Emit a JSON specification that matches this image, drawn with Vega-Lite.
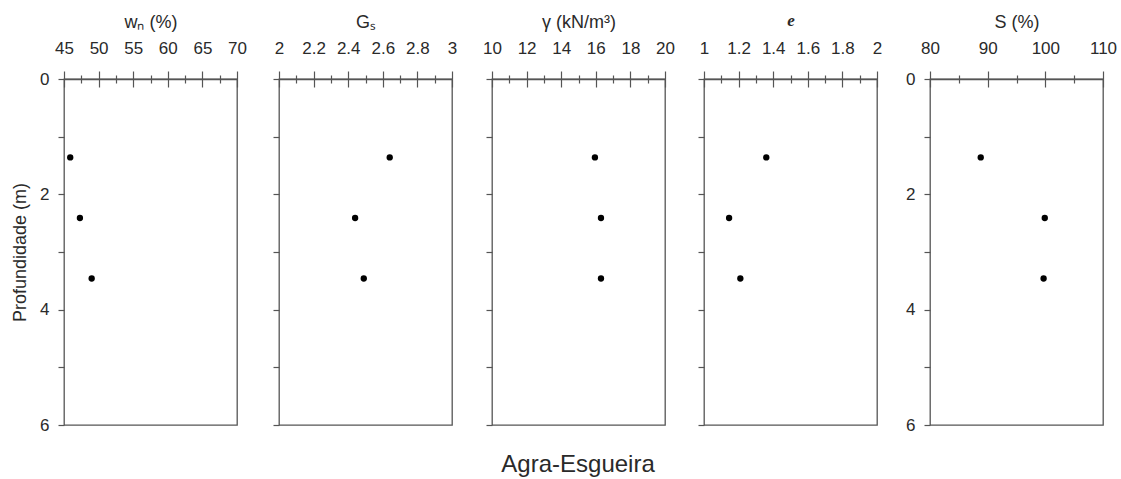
{
  "$schema": "https://vega.github.io/schema/vega-lite/v6.json",
  "background": "white",
  "padding": {"left": 10, "top": 10, "right": 5, "bottom": 5},
  "config": {
    "view": {"stroke": "#555", "strokeWidth": 1.3},
    "axis": {
      "labelFont": "Liberation Sans", "labelFontSize": 17, "labelColor": "#2a2a2a", "labelFlush": false,
      "titleFont": "Liberation Sans", "titleFontSize": 18, "titleFontWeight": "normal", "titleColor": "#2a2a2a",
      "tickColor": "#555", "domainColor": "#555", "tickWidth": 1.2, "domainWidth": 1.3, "grid": false, "labelOverlap": false
    },
    "title": {"font": "Liberation Sans", "fontSize": 24, "fontWeight": "normal", "color": "#2a2a2a"}
  },
  "data": {"values": [
    {"depth": 1.36, "wn": 45.9, "gs": 2.64, "gamma": 15.95, "e": 1.36, "s": 88.8},
    {"depth": 2.41, "wn": 47.3, "gs": 2.44, "gamma": 16.3, "e": 1.145, "s": 99.9},
    {"depth": 3.46, "wn": 49.0, "gs": 2.49, "gamma": 16.3, "e": 1.21, "s": 99.7}
  ]},
  "title": {"text": "Agra-Esgueira", "orient": "bottom", "anchor": "middle", "offset": 19, "dx": 14},
  "spacing": 20,
  "hconcat": [
    {
      "spacing": 23,
      "hconcat": [
        {
          "width": 173, "height": 346,
          "resolve": {"axis": {"x": "independent", "y": "independent"}},
          "layer": [
            {
              "mark": {"type": "point", "filled": true, "color": "black", "size": 40, "opacity": 1},
              "encoding": {
                "x": {"field": "wn", "type": "quantitative", "scale": {"domain": [45, 70], "nice": false, "zero": false},
                  "axis": {"orient": "top", "title": "wₙ (%)", "titlePadding": 8, "values": [45, 47.5, 50, 52.5, 55, 57.5, 60, 62.5, 65, 67.5, 70],
                    "format": "~g", "labelExpr": "datum.value % 5 === 0 ? datum.label : ''", "labelPadding": 14,
                    "tickSize": {"condition": {"test": "datum.value % 5 === 0", "value": 8}, "value": 4}}},
                "y": {"field": "depth", "type": "quantitative", "scale": {"domain": [0, 6], "reverse": true, "nice": false, "zero": false},
                  "axis": {"title": "Profundidade (m)", "values": [0, 1, 2, 3, 4, 5, 6], "labelExpr": "datum.value % 2 === 0 ? datum.label : ''", "tickSize": 6, "labelPadding": 9, "titlePadding": 10, "domain": false}}
              }
            },
            {
              "mark": {"type": "point", "opacity": 0},
              "encoding": {
                "x": {"field": "wn", "type": "quantitative",
                  "axis": {"orient": "top", "title": null, "labels": false, "domain": false, "values": [45, 47.5, 50, 52.5, 55, 57.5, 60, 62.5, 65, 67.5, 70],
                    "tickSize": {"condition": {"test": "datum.value % 5 === 0", "value": -8}, "value": -4}}},
                "y": {"field": "depth", "type": "quantitative", "axis": null}
              }
            }
          ]
        },
        {
          "width": 173, "height": 346,
          "resolve": {"axis": {"x": "independent", "y": "independent"}},
          "layer": [
            {
              "mark": {"type": "point", "filled": true, "color": "black", "size": 40, "opacity": 1},
              "encoding": {
                "x": {"field": "gs", "type": "quantitative", "scale": {"domain": [2, 3], "nice": false, "zero": false},
                  "axis": {"orient": "top", "title": "Gₛ", "titlePadding": 8, "values": [2, 2.1, 2.2, 2.3, 2.4, 2.5, 2.6, 2.7, 2.8, 2.9, 3],
                    "format": "~g", "labelExpr": "round(datum.value * 10) % 2 === 0 ? datum.label : ''", "labelPadding": 14,
                    "tickSize": {"condition": {"test": "round(datum.value * 10) % 2 === 0", "value": 8}, "value": 4}}},
                "y": {"field": "depth", "type": "quantitative", "scale": {"domain": [0, 6], "reverse": true, "nice": false, "zero": false},
                  "axis": {"title": null, "labels": false, "values": [0, 1, 2, 3, 4, 5, 6], "tickSize": 6, "domain": false}}
              }
            },
            {
              "mark": {"type": "point", "opacity": 0},
              "encoding": {
                "x": {"field": "gs", "type": "quantitative",
                  "axis": {"orient": "top", "title": null, "labels": false, "domain": false, "values": [2, 2.1, 2.2, 2.3, 2.4, 2.5, 2.6, 2.7, 2.8, 2.9, 3],
                    "tickSize": {"condition": {"test": "round(datum.value * 10) % 2 === 0", "value": -8}, "value": -4}}},
                "y": {"field": "depth", "type": "quantitative", "axis": null}
              }
            }
          ]
        },
        {
          "width": 173, "height": 346,
          "resolve": {"axis": {"x": "independent", "y": "independent"}},
          "layer": [
            {
              "mark": {"type": "point", "filled": true, "color": "black", "size": 40, "opacity": 1},
              "encoding": {
                "x": {"field": "gamma", "type": "quantitative", "scale": {"domain": [10, 20], "nice": false, "zero": false},
                  "axis": {"orient": "top", "title": "γ (kN/m³)", "titlePadding": 8, "values": [10, 11, 12, 13, 14, 15, 16, 17, 18, 19, 20],
                    "format": "~g", "labelExpr": "datum.value % 2 === 0 ? datum.label : ''", "labelPadding": 14,
                    "tickSize": {"condition": {"test": "datum.value % 2 === 0", "value": 8}, "value": 4}}},
                "y": {"field": "depth", "type": "quantitative", "scale": {"domain": [0, 6], "reverse": true, "nice": false, "zero": false},
                  "axis": {"title": null, "labels": false, "values": [0, 1, 2, 3, 4, 5, 6], "tickSize": 6, "domain": false}}
              }
            },
            {
              "mark": {"type": "point", "opacity": 0},
              "encoding": {
                "x": {"field": "gamma", "type": "quantitative",
                  "axis": {"orient": "top", "title": null, "labels": false, "domain": false, "values": [10, 11, 12, 13, 14, 15, 16, 17, 18, 19, 20],
                    "tickSize": {"condition": {"test": "datum.value % 2 === 0", "value": -8}, "value": -4}}},
                "y": {"field": "depth", "type": "quantitative", "axis": null}
              }
            }
          ]
        }
      ]
    },
    {
      "spacing": 21,
      "hconcat": [
        {
          "width": 173, "height": 346,
          "resolve": {"axis": {"x": "independent", "y": "independent"}},
          "layer": [
            {
              "mark": {"type": "point", "filled": true, "color": "black", "size": 40, "opacity": 1},
              "encoding": {
                "x": {"field": "e", "type": "quantitative", "scale": {"domain": [1, 2], "nice": false, "zero": false},
                  "axis": {"orient": "top", "title": "e", "titleFont": "Liberation Serif", "titleFontStyle": "italic", "titleFontWeight": "bold", "titleFontSize": 17, "titlePadding": 10,
                    "values": [1, 1.1, 1.2, 1.3, 1.4, 1.5, 1.6, 1.7, 1.8, 1.9, 2],
                    "format": "~g", "labelExpr": "round(datum.value * 10) % 2 === 0 ? datum.label : ''", "labelPadding": 14,
                    "tickSize": {"condition": {"test": "round(datum.value * 10) % 2 === 0", "value": 8}, "value": 4}}},
                "y": {"field": "depth", "type": "quantitative", "scale": {"domain": [0, 6], "reverse": true, "nice": false, "zero": false},
                  "axis": {"title": null, "labels": false, "values": [0, 1, 2, 3, 4, 5, 6], "tickSize": 6, "domain": false}}
              }
            },
            {
              "mark": {"type": "point", "opacity": 0},
              "encoding": {
                "x": {"field": "e", "type": "quantitative",
                  "axis": {"orient": "top", "title": null, "labels": false, "domain": false, "values": [1, 1.1, 1.2, 1.3, 1.4, 1.5, 1.6, 1.7, 1.8, 1.9, 2],
                    "tickSize": {"condition": {"test": "round(datum.value * 10) % 2 === 0", "value": -8}, "value": -4}}},
                "y": {"field": "depth", "type": "quantitative", "axis": null}
              }
            }
          ]
        },
        {
          "width": 173, "height": 346,
          "resolve": {"axis": {"x": "independent", "y": "independent"}},
          "layer": [
            {
              "mark": {"type": "point", "filled": true, "color": "black", "size": 40, "opacity": 1},
              "encoding": {
                "x": {"field": "s", "type": "quantitative", "scale": {"domain": [80, 110], "nice": false, "zero": false},
                  "axis": {"orient": "top", "title": "S (%)", "titlePadding": 8, "values": [80, 85, 90, 95, 100, 105, 110],
                    "format": "~g", "labelExpr": "datum.value % 10 === 0 ? datum.label : ''", "labelPadding": 14,
                    "tickSize": {"condition": {"test": "datum.value % 10 === 0", "value": 8}, "value": 4}}},
                "y": {"field": "depth", "type": "quantitative", "scale": {"domain": [0, 6], "reverse": true, "nice": false, "zero": false},
                  "axis": {"title": null, "values": [0, 1, 2, 3, 4, 5, 6], "labelExpr": "datum.value % 2 === 0 ? datum.label : ''", "tickSize": 6, "labelPadding": 9, "domain": false}}
              }
            },
            {
              "mark": {"type": "point", "opacity": 0},
              "encoding": {
                "x": {"field": "s", "type": "quantitative",
                  "axis": {"orient": "top", "title": null, "labels": false, "domain": false, "values": [80, 85, 90, 95, 100, 105, 110],
                    "tickSize": {"condition": {"test": "datum.value % 10 === 0", "value": -8}, "value": -4}}},
                "y": {"field": "depth", "type": "quantitative", "axis": null}
              }
            }
          ]
        }
      ]
    }
  ]
}
